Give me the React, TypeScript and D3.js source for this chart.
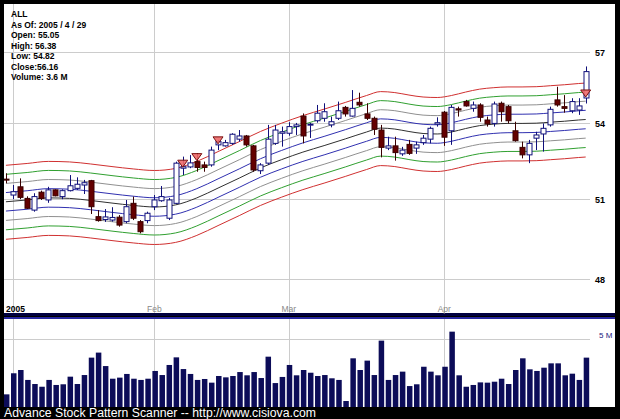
import React, { useEffect, useRef } from 'react';
import * as d3 from 'd3';

// trading days per month
const daysDec04 = [31];
const daysJan = [3, 4, 5, 6, 7, 10, 11, 12, 13, 14, 18, 19, 20, 21, 24, 25, 26, 27, 28, 31];
const daysFeb = [1, 2, 3, 4, 7, 8, 9, 10, 11, 14, 15, 16, 17, 18, 22, 23, 24, 25, 28];
const daysMar = [1, 2, 3, 4, 7, 8, 9, 10, 11, 14, 15, 16, 17, 18, 21, 22, 23, 24, 28, 29, 30, 31];
const daysApr = [1, 4, 5, 6, 7, 8, 11, 12, 13, 14, 15, 18, 19, 20, 21, 22, 25, 26, 27, 28, 29];

const pad = (n: number) => (n < 10 ? '0' + n : '' + n);
const dates: string[] = [
  ...daysDec04.map(d => `2004-12-${pad(d)}`),
  ...daysJan.map(d => `2005-01-${pad(d)}`),
  ...daysFeb.map(d => `2005-02-${pad(d)}`),
  ...daysMar.map(d => `2005-03-${pad(d)}`),
  ...daysApr.map(d => `2005-04-${pad(d)}`),
];

const opens = [
  51.77, 51.15, 51.47, 51.02, 50.57, 51.26, 50.96, 51.35, 51.09, 51.32, 51.41, 51.54, 51.71, 50.32, 50.21, 50.19, 50.30, 50.13, 50.83, 50.13, 50.17,
  50.70, 50.93, 50.26, 50.83, 52.20, 52.25, 52.46, 52.33, 52.33, 53.13, 53.09, 53.19, 53.36, 53.49, 53.09, 52.10, 52.40, 53.19, 53.60,
  53.60, 53.87, 54.30, 53.96, 54.11, 54.21, 53.94, 54.21, 54.66, 54.30, 54.87, 54.39, 54.21, 53.73, 53.00, 53.09, 52.77, 53.15, 53.00, 53.22, 53.36, 53.97,
  54.46, 53.70, 54.60, 54.90, 54.62, 54.76, 54.14, 54.00, 54.83, 54.69, 53.70, 53.03, 52.73, 53.40, 53.57, 53.94, 54.97, 54.69, 54.52, 54.55, 55.05,
];
const highs = [
  52.00, 51.54, 51.80, 51.10, 51.22, 51.32, 51.47, 51.37, 51.37, 51.93, 51.84, 51.74, 51.74, 50.57, 50.61, 50.68, 50.38, 50.96, 51.09, 50.19, 50.51,
  51.15, 51.50, 51.04, 52.46, 52.66, 52.72, 52.80, 52.46, 53.06, 53.33, 53.33, 53.60, 53.73, 53.53, 53.13, 52.40, 53.94, 53.94, 53.87,
  54.05, 54.02, 54.41, 54.02, 54.76, 54.83, 54.28, 54.90, 54.72, 55.38, 55.27, 54.83, 54.28, 53.94, 53.46, 53.46, 53.05, 53.33, 53.26, 53.53, 53.87, 54.25,
  54.51, 54.76, 54.69, 54.97, 54.90, 54.83, 54.28, 54.90, 54.90, 54.76, 54.07, 53.26, 53.33, 53.66, 54.00, 54.69, 55.52, 55.17, 55.04, 55.04, 56.38,
];
const lows = [
  51.61, 50.99, 50.99, 50.61, 50.51, 50.96, 50.85, 51.10, 50.99, 51.29, 51.35, 51.19, 50.42, 50.13, 50.12, 50.13, 49.94, 50.07, 50.19, 49.69, 50.07,
  50.57, 50.89, 50.19, 50.80, 51.93, 52.20, 52.06, 52.06, 52.26, 52.92, 53.06, 53.13, 53.26, 53.06, 52.06, 51.97, 52.33, 53.13, 53.06,
  53.50, 53.53, 53.19, 53.41, 54.03, 54.07, 53.84, 54.14, 54.28, 54.28, 54.69, 54.14, 53.53, 52.63, 52.92, 52.50, 52.69, 52.73, 52.77, 53.13, 53.19, 53.87,
  53.09, 53.13, 54.28, 54.69, 54.48, 54.07, 53.87, 53.87, 54.07, 54.00, 53.26, 52.59, 52.40, 52.92, 52.86, 53.87, 54.69, 54.44, 54.42, 54.35, 54.82,
];
const closes = [
  51.75, 51.28, 51.06, 50.64, 51.09, 51.02, 51.35, 51.12, 51.32, 51.51, 51.57, 51.63, 50.70, 50.17, 50.31, 50.29, 50.00, 50.70, 50.26, 49.75, 50.45,
  50.96, 51.09, 50.96, 52.40, 52.26, 52.41, 52.23, 52.23, 52.92, 53.26, 53.22, 53.56, 53.49, 53.13, 52.13, 52.33, 53.36, 53.73, 53.66,
  53.87, 53.94, 53.49, 53.97, 54.42, 54.48, 54.07, 54.52, 54.39, 54.62, 54.76, 54.21, 53.76, 53.03, 53.09, 52.82, 52.92, 52.79, 53.13, 53.40, 53.80, 54.03,
  53.44, 54.66, 54.55, 54.72, 54.76, 54.25, 53.98, 54.80, 54.48, 54.11, 53.30, 52.73, 53.19, 53.53, 53.80, 54.58, 54.76, 54.62, 54.90, 54.72, 56.16,
];
// volume in millions
const volumes = [
  0.93, 2.48, 2.72, 1.99, 1.69, 1.49, 1.99, 1.62, 1.67, 2.23, 1.69, 2.35, 3.63, 4.0, 3.01, 2.08, 2.16, 2.43, 2.08, 1.99, 2.08,
  2.65, 2.35, 3.09, 3.65, 2.79, 2.43, 1.99, 2.06, 1.79, 2.28, 2.18, 2.28, 2.57, 2.33, 2.57, 2.13, 3.7, 1.76, 2.21,
  3.09, 2.33, 2.72, 2.52, 2.28, 2.35, 2.11, 1.99, 0.44, 3.58, 2.72, 3.41, 2.35, 4.88, 1.99, 2.35, 2.6, 1.54, 1.67, 2.96, 2.6, 2.33,
  2.96, 5.54, 2.33, 1.49, 1.62, 1.81, 1.79, 1.86, 2.08, 1.69, 2.72, 3.58, 2.77, 2.65, 2.89, 3.21, 3.21, 2.33, 2.45, 1.99, 3.63,
];

// envelope centre line, read at a few dates
const bandDates = [
  '2004-12-31', '2005-01-05', '2005-01-10', '2005-01-13', '2005-01-19', '2005-01-24', '2005-01-27',
  '2005-02-01', '2005-02-04', '2005-02-09', '2005-02-14', '2005-02-17', '2005-02-23', '2005-02-28',
  '2005-03-03', '2005-03-08', '2005-03-11', '2005-03-16', '2005-03-18', '2005-03-22', '2005-03-24', '2005-03-29', '2005-03-31',
  '2005-04-04', '2005-04-06', '2005-04-08', '2005-04-12', '2005-04-14', '2005-04-18', '2005-04-20', '2005-04-22', '2005-04-26', '2005-04-28', '2005-04-29',
];
const bandCenter = [
  50.89, 50.96, 51.04, 51.02, 50.94, 50.84, 50.75,
  50.69, 50.77, 51.04, 51.42, 51.81, 52.21, 52.54,
  52.84, 53.10, 53.37, 53.65, 53.81, 53.77, 53.67, 53.59, 53.57,
  53.65, 53.79, 53.91, 53.97, 54.00, 54.00, 54.01, 54.05, 54.09, 54.14, 54.16,
];
const bandPct = [2.8, 2.1, 1.4, 0.7, 0, -0.7, -1.4, -2.1, -2.8];
const bandColors = ['#d03030', '#30a030', '#909090', '#3030b0', '#303030', '#3030b0', '#909090', '#30a030', '#d03030'];

const markerDates = ['2005-02-07', '2005-02-09', '2005-02-14', '2005-04-29'];
const priceTicks = [57, 54, 51, 48];
const monthStarts = ['2005-01-03', '2005-02-01', '2005-03-01', '2005-04-01'];
const monthLabels = ['2005', 'Feb', 'Mar', 'Apr'];
const infoLines = ['ALL', 'As Of: 2005 / 4 / 29', 'Open: 55.05', 'High: 56.38', 'Low: 54.82', 'Close:56.16', 'Volume: 3.6 M'];

const W = 620;
const H = 419;

const App: React.FC = () => {
  const svgRef = useRef<SVGSVGElement>(null);

  useEffect(() => {
    if (!svgRef.current) return;
    const svg = d3.select(svgRef.current);
    svg.selectAll('*').remove();

    const font = 'Arial, "Liberation Sans", sans-serif';

    const x = d3.scalePoint<string>().domain(dates).range([5.93, 585.7]);
    const y = d3.scaleLog().domain([48, 57]).range([279, 52]);
    const vy = d3.scaleLinear().domain([0, 5]).range([407, 339]);

    // background + panels
    svg.append('rect').attr('width', W).attr('height', H).attr('fill', '#000');
    svg.append('rect').attr('x', 4).attr('y', 4).attr('width', 611).attr('height', 310).attr('fill', '#fff');
    svg.append('rect').attr('x', 4).attr('y', 313).attr('width', 611).attr('height', 3).attr('fill', '#000040');
    svg.append('rect').attr('x', 4).attr('y', 317).attr('width', 611).attr('height', 2).attr('fill', '#2828a0');
    svg.append('rect').attr('x', 4).attr('y', 319).attr('width', 611).attr('height', 88).attr('fill', '#fff');

    const defs = svg.append('defs');
    defs.append('clipPath').attr('id', 'clipTop')
      .append('rect').attr('x', 4).attr('y', 4).attr('width', 611).attr('height', 309);
    defs.append('clipPath').attr('id', 'clipBot')
      .append('rect').attr('x', 4).attr('y', 319).attr('width', 611).attr('height', 88);

    const top = svg.append('g').attr('clip-path', 'url(#clipTop)');
    const bot = svg.append('g').attr('clip-path', 'url(#clipBot)');

    // grid
    monthStarts.forEach(d => {
      const gx = Math.round(x(d)!) + 0.5;
      top.append('line').attr('x1', gx).attr('x2', gx).attr('y1', 4).attr('y2', 313)
        .attr('stroke', '#cccccc').attr('stroke-width', 1);
      bot.append('line').attr('x1', gx).attr('x2', gx).attr('y1', 319).attr('y2', 407)
        .attr('stroke', '#cccccc').attr('stroke-width', 1);
    });
    priceTicks.forEach(p => {
      const gy = Math.round(y(p)) + 0.5;
      top.append('line').attr('x1', 4).attr('x2', 590).attr('y1', gy).attr('y2', gy)
        .attr('stroke', '#cccccc').attr('stroke-width', 1);
      svg.append('text').attr('x', 595).attr('y', gy).attr('dy', '0.35em')
        .attr('font-family', font).attr('font-size', 9).attr('font-weight', 'bold').attr('fill', '#000')
        .text(p);
    });
    bot.append('line').attr('x1', 4).attr('x2', 590).attr('y1', Math.round(vy(5)) + 0.5).attr('y2', Math.round(vy(5)) + 0.5)
      .attr('stroke', '#cccccc');
    svg.append('text').attr('x', 599).attr('y', vy(5)).attr('dy', '-0.1em')
      .attr('font-family', font).attr('font-size', 8).attr('fill', '#202080').text('5 M');

    // month labels
    monthStarts.forEach((d, i) => {
      const first = i === 0;
      svg.append('text')
        .attr('x', first ? 6 : x(d)!)
        .attr('y', 309.5)
        .attr('dy', '0.35em')
        .attr('text-anchor', first ? 'start' : 'middle')
        .attr('font-family', font).attr('font-size', 8.5)
        .attr('font-weight', first ? 'bold' : 'normal')
        .attr('fill', first ? '#000' : '#888')
        .text(monthLabels[i]);
    });

    // envelope bands
    const line = d3.line<[string, number]>()
      .x(d => x(d[0])!)
      .y(d => y(d[1]))
      .curve(d3.curveMonotoneX);
    bandPct.forEach((pct, k) => {
      const pts: [string, number][] = bandDates.map((d, i) => [d, bandCenter[i] * (1 + pct / 100)]);
      top.append('path').datum(pts).attr('d', line as any)
        .attr('fill', 'none').attr('stroke', bandColors[k]).attr('stroke-width', 1);
    });

    // candles
    const bw = 5;
    dates.forEach((d, i) => {
      const cx = Math.round(x(d)!) + 0.5;
      const o = opens[i], c = closes[i], h = highs[i], l = lows[i];
      const up = c >= o;
      const stroke = up ? '#10107a' : '#3a0000';
      top.append('line').attr('x1', cx).attr('x2', cx).attr('y1', y(h)).attr('y2', y(l))
        .attr('stroke', stroke).attr('stroke-width', 1);
      const y0 = y(Math.max(o, c));
      const y1 = y(Math.min(o, c));
      top.append('rect')
        .attr('x', cx - bw / 2).attr('y', y0)
        .attr('width', bw).attr('height', Math.max(1, y1 - y0))
        .attr('fill', up ? '#fff' : '#640000')
        .attr('stroke', stroke).attr('stroke-width', 1);
    });

    // signal markers
    markerDates.forEach(d => {
      const i = dates.indexOf(d);
      const cx = x(d)!;
      const ty = y(opens[i]) - 1;
      top.append('path')
        .attr('d', `M${cx - 5},${ty - 7}L${cx + 5},${ty - 7}L${cx},${ty}Z`)
        .attr('fill', '#ee6a6a').attr('fill-opacity', 0.9)
        .attr('stroke', '#7a1010').attr('stroke-width', 1);
    });

    // volume bars
    dates.forEach((d, i) => {
      const bx = x(d)! - 2;
      bot.append('rect')
        .attr('x', bx).attr('y', vy(volumes[i]))
        .attr('width', 5.5).attr('height', vy(0) - vy(volumes[i]))
        .attr('fill', '#0c0c58');
    });

    // info text
    infoLines.forEach((t, i) => {
      svg.append('text')
        .attr('x', 11).attr('y', 17 + i * 10.5)
        .attr('font-family', font).attr('font-size', 8.5).attr('font-weight', 'bold')
        .attr('fill', '#000').text(t);
    });

    // footer
    svg.append('text')
      .attr('x', 4).attr('y', 417)
      .attr('font-family', font).attr('font-size', 12)
      .attr('fill', '#fff')
      .attr('textLength', 312).attr('lengthAdjust', 'spacingAndGlyphs')
      .text('Advance Stock Pattern Scanner -- http://www.cisiova.com');
  }, []);

  return (
    <svg
      ref={svgRef}
      width={W}
      height={H}
      style={{ position: 'absolute', left: 0, top: 0, display: 'block' }}
    />
  );
};

export default App;
